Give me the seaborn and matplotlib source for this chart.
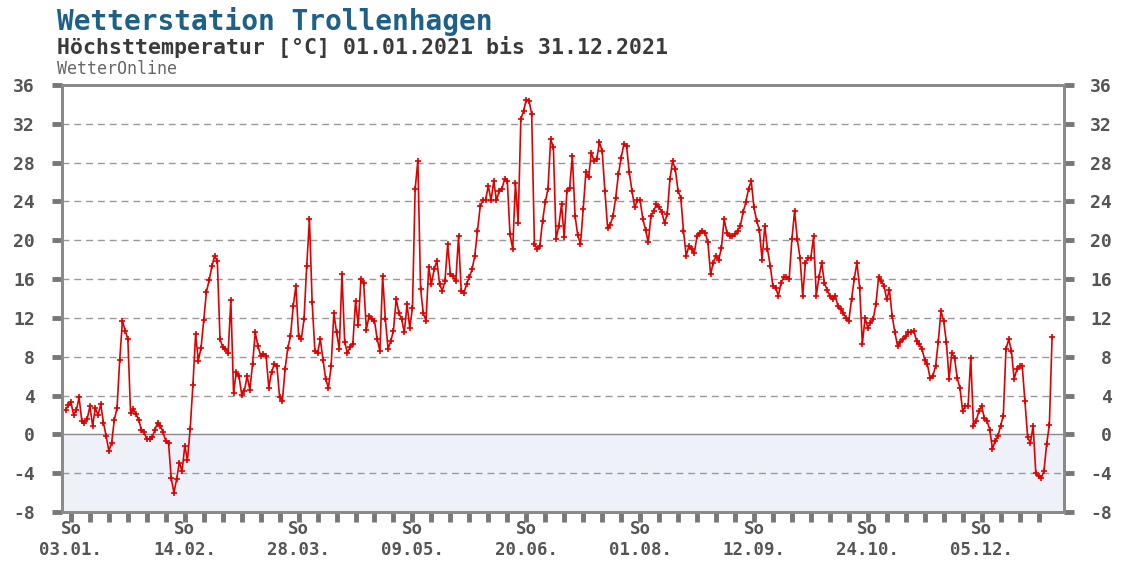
import numpy as np
import pandas as pd
import seaborn as sns
import matplotlib
matplotlib.use('Agg')
import matplotlib.pyplot as plt

sns.set_theme(style='white')
plt.rcParams['font.family'] = ['DejaVu Sans Mono', 'DejaVu Sans']
plt.rcParams['font.weight'] = 'bold'

# Tageshoechsttemperatur 2021 in Grad C
jan = [2.5, 3.0, 3.3, 2.0, 2.5, 3.8, 1.4, 1.2, 1.6, 2.9, 0.9, 2.7, 2.0, 3.1, 1.2, -0.2,
       -1.7, -0.9, 1.5, 2.7, 7.7, 11.7, 10.7, 9.8, 2.2, 2.6, 2.1, 1.5, 0.5, 0.2, -0.5]
feb = [-0.5, -0.3, 0.5, 1.2, 0.9, 0.2, -0.7, -0.9, -4.5, -6.0, -4.6, -2.9, -3.8, -1.2,
       -2.6, 0.6, 5.1, 10.3, 7.6, 8.9, 11.8, 14.7, 15.9, 17.3, 18.4, 17.9, 9.8, 9.0]
mar = [8.8, 8.4, 13.8, 4.3, 6.4, 6.0, 4.1, 4.5, 6.0, 4.6, 7.2, 10.5, 9.1, 8.1, 8.3, 8.1,
       4.8, 6.4, 7.2, 7.0, 3.8, 3.4, 6.7, 8.9, 10.1, 13.2, 15.3, 10.1, 9.8, 11.9, 17.4]
apr = [22.2, 13.6, 8.6, 8.4, 9.8, 7.7, 5.7, 4.8, 7.0, 12.5, 10.5, 8.8, 16.5, 9.5, 8.4,
       9.0, 9.3, 13.7, 11.3, 16.0, 15.6, 10.8, 12.2, 11.9, 11.7, 9.8, 8.6, 16.3, 11.9, 8.8]
may = [9.6, 10.7, 14.0, 12.5, 11.9, 10.5, 13.4, 11.0, 13.0, 25.3, 28.2, 15.0, 12.5, 11.7,
       17.2, 15.5, 17.0, 17.9, 15.5, 14.8, 15.8, 19.6, 16.5, 16.3, 15.8, 20.4, 14.8, 14.6,
       15.5, 16.2, 17.0]
jun = [18.4, 21.0, 23.5, 24.1, 24.2, 25.6, 24.1, 26.1, 24.1, 25.1, 25.3, 26.3, 26.1, 20.6,
       19.1, 25.9, 21.8, 32.5, 33.3, 34.5, 34.4, 33.0, 19.6, 19.1, 19.4, 22.0, 23.9, 25.3,
       30.4, 29.6]
jul = [20.1, 21.5, 23.7, 20.3, 25.1, 25.4, 28.7, 22.5, 20.5, 19.6, 23.2, 27.0, 26.5, 29.0,
       28.2, 28.4, 30.1, 29.2, 25.1, 21.3, 21.6, 22.5, 24.4, 26.8, 28.5, 29.9, 29.7, 27.0,
       25.1, 23.4, 24.1]
aug = [24.1, 22.2, 21.1, 19.8, 22.5, 23.0, 23.7, 23.4, 22.9, 21.8, 22.7, 26.3, 28.2, 27.3,
       25.1, 24.4, 21.0, 18.4, 19.4, 19.1, 18.7, 20.4, 20.8, 21.0, 20.8, 19.8, 16.5, 17.7,
       18.4, 18.0, 19.2]
sep = [22.2, 20.8, 20.4, 20.4, 20.6, 21.0, 21.5, 22.9, 23.9, 25.3, 26.1, 23.4, 22.0, 21.1,
       18.0, 21.5, 19.1, 17.4, 15.3, 15.1, 14.3, 15.6, 16.2, 16.2, 16.0, 20.1, 23.0, 20.1,
       18.2, 14.3]
okt = [17.7, 18.2, 18.2, 20.4, 14.3, 16.2, 17.7, 15.6, 14.9, 14.3, 13.9, 14.3, 13.2, 12.9,
       12.5, 12.0, 11.7, 13.9, 16.0, 17.7, 15.1, 9.3, 12.0, 11.0, 11.5, 11.9, 13.4, 16.2,
       15.8, 15.3, 13.9]
nov = [14.9, 12.2, 10.5, 9.1, 9.5, 9.8, 10.1, 10.5, 10.5, 10.7, 9.6, 9.3, 8.8, 7.7, 7.2,
       5.8, 6.0, 7.0, 9.5, 12.7, 11.7, 9.5, 5.7, 8.4, 7.9, 5.8, 4.8, 2.4, 2.9, 2.9]
dez = [7.9, 0.9, 1.4, 2.4, 2.9, 1.7, 1.4, 0.5, -1.5, -0.7, -0.2, 0.9, 1.9, 8.8, 9.8, 8.6,
       5.7, 6.7, 7.0, 7.0, 3.4, -0.3, -0.9, 0.9, -4.0, -4.3, -4.5, -3.8, -1.0, 1.0, 10.0]

monate = [jan, feb, mar, apr, may, jun, jul, aug, sep, okt, nov, dez]
tmax = [v for m in monate for v in m]

dates = pd.date_range('2021-01-01', '2021-12-31', freq='D')
df = pd.DataFrame({'tag': np.arange(1, len(dates) + 1), 'tmax': tmax})

# Sonntage als Ticks, jeder sechste beschriftet
sonntage = np.where(dates.dayofweek == 6)[0] + 1
xlabels = ['So\n' + dates[d - 1].strftime('%d.%m.') if i % 6 == 0 else ''
           for i, d in enumerate(sonntage)]
yticks = list(range(-8, 37, 4))
ylabels = [str(y) for y in yticks]

fig = plt.figure(figsize=(11.21, 5.68), dpi=100)
ax = fig.add_axes([62 / 1121, 1 - 512 / 568, (1064 - 62) / 1121, (512 - 85) / 568])

# Hintergrund unter 0 Grad
ax.axhspan(-8, 0, color='#eef2f8', zorder=0)
for y in yticks[1:-1]:
    if y != 0:
        ax.axhline(y, color='#999999', lw=1, ls=(0, (5, 3.5)), zorder=1)
ax.axhline(0, color='#8a8a8a', lw=1, zorder=1)

sns.lineplot(data=df, x='tag', y='tmax', ax=ax, estimator=None, color='#e00000', lw=1.2,
             marker='+', markersize=5, markeredgewidth=1.2, markeredgecolor='#e00000',
             legend=False, zorder=3)

ax.set_xlim(-0.3, 369.4)
ax.set_ylim(-8, 36)
ax.set_xlabel('')
ax.set_ylabel('')
ax.set_xticks(sonntage)
ax.set_xticklabels(xlabels)
ax.set_yticks(yticks)
ax.set_yticklabels(ylabels)

ax.tick_params(axis='x', bottom=True, direction='out', length=7, width=3.5,
               color='#777777', pad=-1, labelsize=12.5, labelcolor='#555555')
ax.tick_params(axis='y', left=True, right=False, labelleft=True, labelright=False,
               direction='out', length=7, width=3.5, color='#777777', pad=12.5,
               labelsize=13, labelcolor='#555555')

# rechte Achse mit rechtsbuendigen Beschriftungen
ax2 = ax.twinx()
ax2.set_ylim(-8, 36)
ax2.set_yticks(yticks)
ax2.set_yticklabels(ylabels)
ax2.grid(False)
ax2.tick_params(axis='y', right=True, labelright=True, direction='out', length=7,
                width=3.5, color='#777777', pad=27.6, labelsize=13, labelcolor='#555555')
for lbl in ax2.get_yticklabels():
    lbl.set_horizontalalignment('right')

for a in [ax, ax2]:
    for side in ['left', 'right', 'top', 'bottom']:
        a.spines[side].set_color('#8a8a8a')
        a.spines[side].set_linewidth(2)

fig.text(57 / 1121, 1 - 7 / 568, 'Wetterstation Trollenhagen', color='#1d6088',
         fontsize=20, fontweight='bold', va='top', ha='left')
fig.text(57 / 1121, 1 - 36 / 568, 'Höchsttemperatur [°C] 01.01.2021 bis 31.12.2021',
         color='#3a3a3a', fontsize=15.5, fontweight='bold', va='top', ha='left')
fig.text(57 / 1121, 1 - 60 / 568, 'WetterOnline', color='#666666',
         fontsize=12, fontweight='normal', va='top', ha='left')

fig.savefig('out.png', dpi=100, facecolor='white')
